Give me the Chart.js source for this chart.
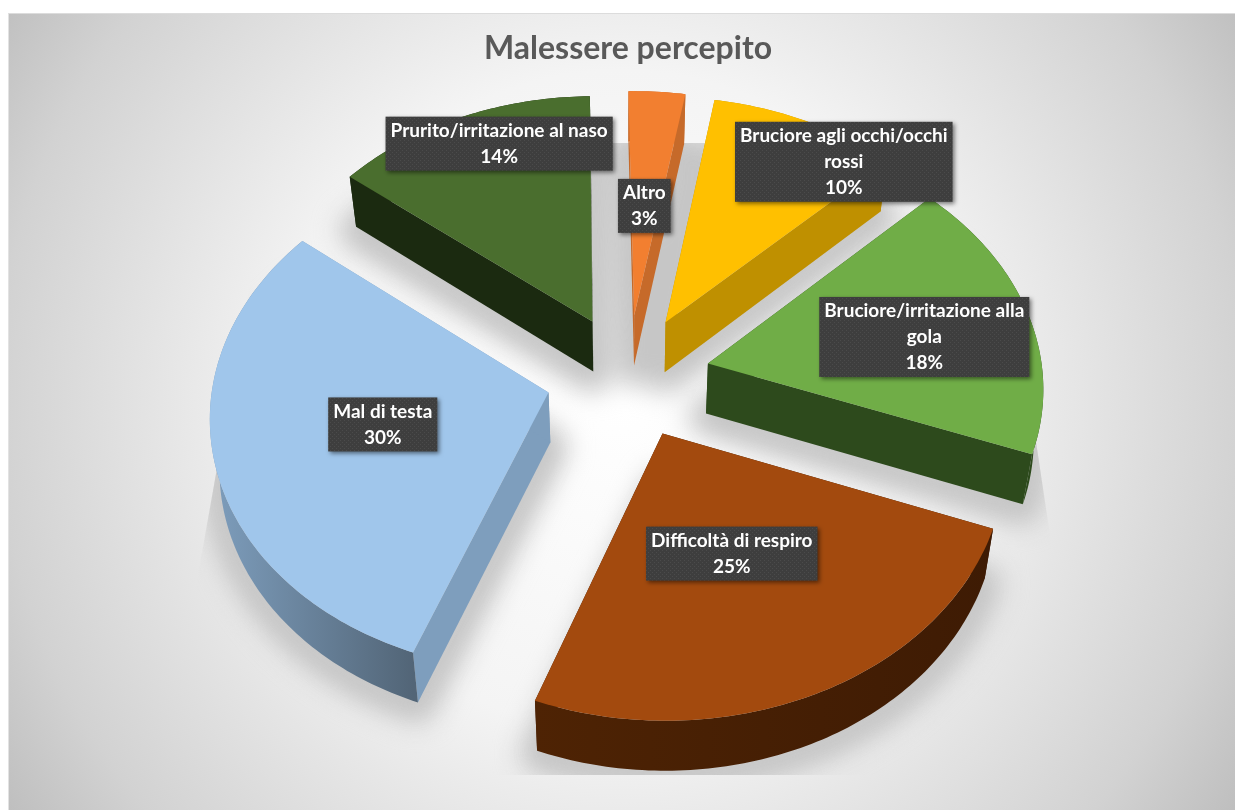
<!DOCTYPE html>
<html lang="it">
<head>
<meta charset="UTF-8">
<title>Malessere percepito</title>
<style>
  * { box-sizing: border-box; margin: 0; padding: 0; }
  html, body { width: 1235px; height: 810px; overflow: hidden; background: #fff; }
  #bg { position: absolute; left: 8px; top: 13px; width: 1227px; height: 797px;
        border-top: 1px solid #dcdcdc; border-left: 1px solid #e2e2e2;
        background: radial-gradient(circle 735px at 612px 387px, #fff 0%, #f4f4f4 45%, #d2d2d2 85%, #bfbfbf 100%); }
  #wrap { position: absolute; left: 0; top: 0; width: 1235px; height: 810px; }
</style>
</head>
<body>
<div id="bg"></div>
<div id="wrap"><canvas id="c"></canvas></div>
<script src="https://cdnjs.cloudflare.com/ajax/libs/Chart.js/4.4.1/chart.umd.js"></script>
<script>
const categories = [
  ['Altro'],
  ['Bruciore agli occhi/occhi', 'rossi'],
  ['Bruciore/irritazione alla', 'gola'],
  ['Difficoltà di respiro'],
  ['Mal di testa'],
  ['Prurito/irritazione al naso']
];
const values = [3, 10, 18, 25, 30, 14];
const topColors = ['#F27F30', '#FFC000', '#70AD47', '#A34A0E', '#A0C6EB', '#4A6E2E'];
const edgeColors = ['#C66A2A', '#BF9000', '#2D4A1C', '#421D05', '#7E9EBD', '#1B2A10'];
const rimLeft = ['#C66A2A', '#BF9000', '#2D4A1C', '#4E2304', '#7E9EBD', '#1B2A10'];
const rimRight = ['#C66A2A', '#BF9000', '#2D4A1C', '#3E1B04', '#526577', '#1B2A10'];
// where each label sits inside its slice: fraction of radius, angle shift in degrees
const labelFrac = [0.47, 0.905, 0.665, 0.48, 0.5, 0.835];
const labelShift = [-0.4, 12, 2.6, 0.9, 1.1, 4.5];

// fake perspective of the Excel 3D pie
const CX = 628, CY = 376, SQUASH = 0.755, PERSP = 0.084, DEPTH = 50, TAPER = 0.977;
let R0 = 335;
function proj(u, v) {
  const d = 1 / (1 - PERSP * v / R0);
  return [CX + u * d, CY + SQUASH * v * d];
}

function sliceGeom(arc) {
  const p = arc.getProps(['startAngle', 'endAngle', 'outerRadius']);
  const mid = (p.startAngle + p.endAngle) / 2;
  const off = arc.options.offset;
  const ox = Math.cos(mid) * off, oy = Math.sin(mid) * off;
  const pts = [];
  const n = Math.max(8, Math.ceil((p.endAngle - p.startAngle) * 60));
  for (let i = 0; i <= n; i++) {
    const a = p.startAngle + (p.endAngle - p.startAngle) * i / n;
    pts.push(proj(ox + Math.cos(a) * p.outerRadius, oy + Math.sin(a) * p.outerRadius));
  }
  return { apex: proj(ox, oy), pts, mid, ox, oy, r: p.outerRadius };
}

function poly(ctx, list) {
  list.forEach((q, i) => i ? ctx.lineTo(q[0], q[1]) : ctx.moveTo(q[0], q[1]));
  ctx.closePath();
}
// bottom edge of the extrusion, verticals lean in a little towards the centre
const down = (q, h) => [CX + (q[0] - CX) * TAPER, q[1] + h];

function dotPattern(ctx) {
  const t = document.createElement('canvas');
  t.width = t.height = 4;
  const g = t.getContext('2d');
  g.fillStyle = '#3e3e3e'; g.fillRect(0, 0, 4, 4);
  g.fillStyle = '#4b4b4b'; g.fillRect(0, 0, 1, 1); g.fillRect(2, 2, 1, 1);
  return ctx.createPattern(t, 'repeat');
}

const pie3d = {
  id: 'pie3d',
  beforeDatasetsDraw(chart) {
    const ctx = chart.ctx;
    const arcs = chart.getDatasetMeta(0).data;
    R0 = arcs[0].outerRadius;
    const geoms = arcs.map(sliceGeom);

    // floor shadow, cut off hard like the original
    ctx.save();
    ctx.beginPath();
    poly(ctx, [[275, 143], [991, 143], [1050, 535], [1065, 775], [165, 775], [198, 575]]);
    ctx.clip();
    ctx.filter = 'blur(13px)';
    ctx.fillStyle = ctx.strokeStyle = '#c6c6c6';
    ctx.lineWidth = 34;
    ctx.lineJoin = 'round';
    ctx.beginPath();
    geoms.forEach(g => poly(ctx, [g.apex, ...g.pts].map(q => down(q, DEPTH + 4))));
    ctx.fill();
    ctx.stroke();
    ctx.restore();

    geoms.forEach((g, i) => {
      const first = g.pts[0], last = g.pts[g.pts.length - 1];
      ctx.save();
      // cut faces
      ctx.fillStyle = edgeColors[i];
      [first, last].forEach(c => {
        ctx.beginPath();
        poly(ctx, [g.apex, c, down(c, DEPTH), down(g.apex, DEPTH)]);
        ctx.fill();
      });
      // rounded rim
      const xs = g.pts.map(q => q[0]);
      const grad = ctx.createLinearGradient(Math.min(...xs), 0, Math.max(...xs), 0);
      grad.addColorStop(0, rimLeft[i]);
      grad.addColorStop(1, rimRight[i]);
      ctx.fillStyle = grad;
      ctx.beginPath();
      poly(ctx, [...g.pts, ...g.pts.slice().reverse().map(q => down(q, DEPTH))]);
      ctx.fill();
      // top face
      ctx.fillStyle = arcs[i].options.backgroundColor;
      ctx.beginPath();
      poly(ctx, [g.apex, ...g.pts]);
      ctx.fill();
      ctx.restore();
    });

    // data labels
    ctx.save();
    const pattern = dotPattern(ctx);
    ctx.font = 'bold 19px Lato';
    ctx.textAlign = 'center';
    ctx.textBaseline = 'middle';
    const lh = 26;
    geoms.forEach((g, i) => {
      const a = g.mid + labelShift[i] * Math.PI / 180;
      const rr = g.r * labelFrac[i];
      const c = proj(g.ox + Math.cos(a) * rr, g.oy + Math.sin(a) * rr);
      const lines = [...categories[i], values[i] + '%'];
      const w = Math.max(...lines.map(s => ctx.measureText(s).width)) + 10;
      const h = lines.length * lh + 2;
      ctx.save();
      ctx.shadowColor = 'rgba(0,0,0,0.5)';
      ctx.shadowBlur = 4;
      ctx.shadowOffsetX = 2;
      ctx.shadowOffsetY = 2;
      ctx.fillStyle = pattern;
      ctx.fillRect(c[0] - w / 2, c[1] - h / 2, w, h);
      ctx.restore();
      ctx.fillStyle = '#fff';
      lines.forEach((s, k) => ctx.fillText(s, c[0], c[1] - h / 2 + 1 + lh * (k + 0.5)));
    });
    ctx.restore();
    return false; // arcs already painted in 3D
  }
};

new Chart(document.getElementById('c').getContext('2d'), {
  type: 'pie',
  data: {
    labels: categories.map(c => c.join(' ')),
    datasets: [{
      data: values,
      backgroundColor: topColors,
      borderWidth: 0,
      offset: 82,
      hoverOffset: 0
    }]
  },
  plugins: [pie3d],
  options: {
    responsive: true,
    maintainAspectRatio: false,
    animation: false,
    radius: 335,
    rotation: -1,
    layout: { padding: { left: 21 } },
    plugins: {
      legend: { display: false },
      tooltip: { enabled: false },
      title: {
        display: true,
        text: 'Malessere percepito',
        color: '#595959',
        font: { family: 'Lato', size: 32, weight: 'bold' },
        padding: { top: 29, bottom: 10 }
      }
    }
  }
});
</script>
</body>
</html>
